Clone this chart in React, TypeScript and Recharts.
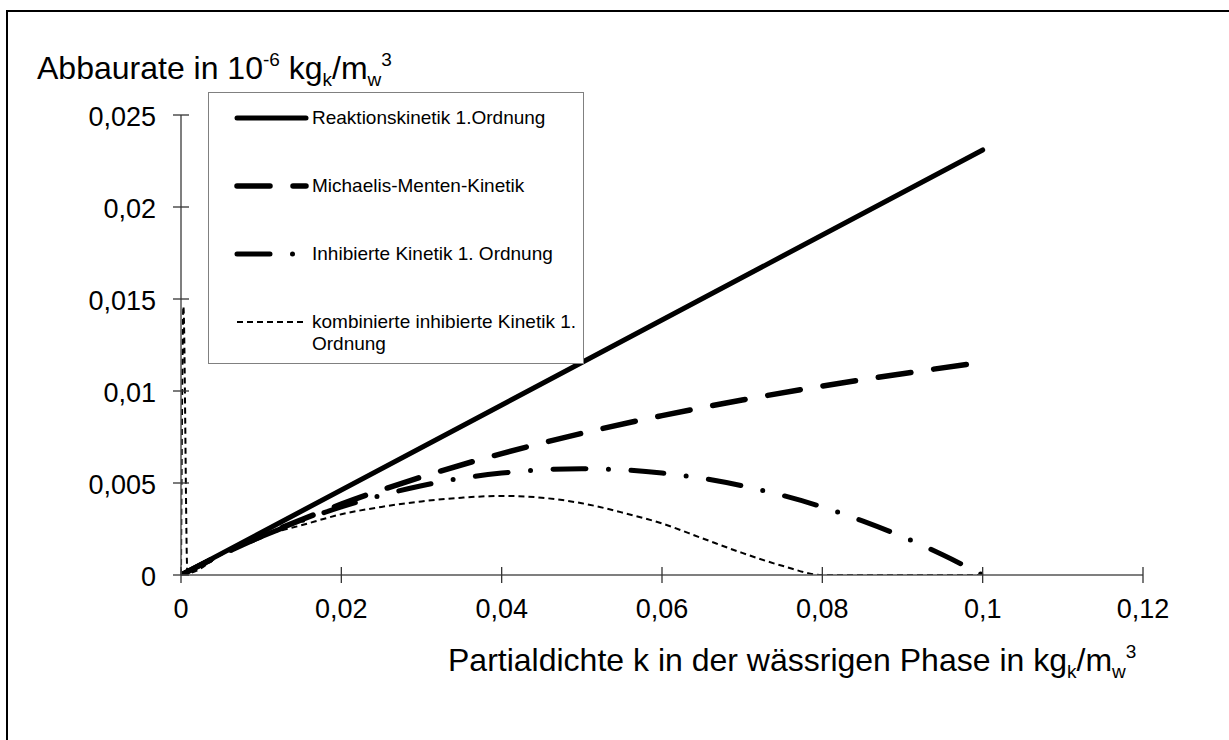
import React from 'react';
import { LineChart, Line, XAxis, YAxis, Legend } from 'recharts';

// Achsen
const xTicks = [0, 0.02, 0.04, 0.06, 0.08, 0.1, 0.12];
const yTicks = [0, 0.005, 0.01, 0.015, 0.02, 0.025];

// Reaktionskinetik 1. Ordnung
const linX = [0, 0.1];
const linY = [0, 0.0231];

// Michaelis-Menten-Kinetik
const mmX = [0, 0.005, 0.01, 0.015, 0.02, 0.03, 0.04, 0.05, 0.06, 0.07, 0.08, 0.09, 0.1];
const mmY = [0, 0.0011, 0.0021, 0.003, 0.00385, 0.00533, 0.0066, 0.0077, 0.00866, 0.00951, 0.01027, 0.01094, 0.01157];

// Inhibierte Kinetik 1. Ordnung
const inhX = [0, 0.005, 0.01, 0.015, 0.02, 0.025, 0.03, 0.035, 0.04, 0.045, 0.05, 0.055, 0.06, 0.065, 0.07, 0.075, 0.08, 0.085, 0.09, 0.095, 0.1];
const inhY = [0, 0.0011, 0.00208, 0.00294, 0.0037, 0.00433, 0.00485, 0.00526, 0.00554, 0.00572, 0.00578, 0.00572, 0.00554, 0.00526, 0.00485, 0.00433, 0.0037, 0.00294, 0.00208, 0.0011, 0];

// kombinierte inhibierte Kinetik 1. Ordnung (mit Spitze bei k ~ 0)
const kombX = [0, 0.0003, 0.0008, 0.005, 0.01, 0.015, 0.02, 0.025, 0.03, 0.035, 0.04, 0.045, 0.05, 0.055, 0.06, 0.065, 0.07, 0.075, 0.08, 0.085, 0.09, 0.095, 0.1];
const kombY = [0, 0.0146, 0.0001, 0.0011, 0.0021, 0.0027, 0.0033, 0.0037, 0.004, 0.0042, 0.0043, 0.0042, 0.0039, 0.0034, 0.0028, 0.002, 0.0012, 0.0005, 0, 0, 0, 0, 0];

const seriesNames = [
  'Reaktionskinetik 1.Ordnung',
  'Michaelis-Menten-Kinetik',
  'Inhibierte Kinetik 1. Ordnung',
  'kombinierte inhibierte Kinetik 1. Ordnung',
];

const toPoints = (xs: number[], ys: number[]) => xs.map((x, i) => ({ x, y: ys[i] }));

const seriesData = [toPoints(linX, linY), toPoints(mmX, mmY), toPoints(inhX, inhY), toPoints(kombX, kombY)];

const lineStyles = [
  { strokeWidth: 5, strokeDasharray: undefined, strokeLinecap: 'round' as const },
  { strokeWidth: 5.5, strokeDasharray: '33 23', strokeLinecap: 'round' as const },
  { strokeWidth: 5, strokeDasharray: '33 22.5 0 22.5', strokeLinecap: 'round' as const },
  { strokeWidth: 2, strokeDasharray: '6 4', strokeLinecap: 'butt' as const },
];

const FONT = '"Liberation Sans", Arial, sans-serif';

const fmt = (v: number) => String(v).replace('.', ',');

const XTick = (props: any) => {
  const { x, y, payload } = props;
  return (
    <g>
      <line x1={x} x2={x} y1={y - 8} y2={y + 8} stroke="#333" strokeWidth={1.3} />
      <text x={x} y={y + 43} textAnchor="middle" fontSize={27} fill="#000" fontFamily={FONT}>
        {fmt(payload.value)}
      </text>
    </g>
  );
};

const YTick = (props: any) => {
  const { x, y, payload } = props;
  return (
    <g>
      <line x1={x - 8} x2={x + 8} y1={y} y2={y} stroke="#333" strokeWidth={1.3} />
      <text x={x - 25} y={y + 11} textAnchor="end" fontSize={27} fill="#000" fontFamily={FONT}>
        {fmt(payload.value)}
      </text>
    </g>
  );
};

const supStyle: React.CSSProperties = { fontSize: 19, position: 'relative', top: -13 };
const subStyle: React.CSSProperties = { fontSize: 19, position: 'relative', top: 7 };

const LegendBox = () => (
  <div
    style={{
      width: 376,
      height: 272,
      border: '1px solid #808080',
      boxSizing: 'border-box',
      background: '#fff',
      position: 'relative',
      fontFamily: FONT,
      fontSize: 19,
      color: '#000',
    }}
  >
    {seriesNames.map((name, i) => {
      const st = lineStyles[i];
      return (
        <div key={name} style={{ position: 'absolute', left: 24, top: 14 + i * 68, display: 'flex', alignItems: 'flex-start' }}>
          <svg width={76} height={22} style={{ flex: 'none' }}>
            <line
              x1={4}
              x2={73}
              y1={11}
              y2={11}
              stroke="#000"
              strokeWidth={st.strokeWidth}
              strokeDasharray={st.strokeDasharray}
              strokeLinecap={st.strokeLinecap}
            />
          </svg>
          <span style={{ marginLeft: 3, width: 268, lineHeight: '22px', display: 'block' }}>{name}</span>
        </div>
      );
    })}
  </div>
);

export default function App() {
  return (
    <div style={{ position: 'absolute', left: 0, top: 0, width: 1229, height: 740, overflow: 'hidden', background: '#fff', fontFamily: FONT }}>
      <div
        style={{
          position: 'absolute',
          left: 6,
          top: 10,
          width: 1300,
          height: 800,
          borderLeft: '2px solid #000',
          borderTop: '2px solid #000',
        }}
      />
      <div style={{ position: 'absolute', left: 37, top: 50, fontSize: 32, whiteSpace: 'nowrap', lineHeight: '37px' }}>
        Abbaurate in 10<span style={supStyle}>-6</span> kg<span style={subStyle}>k</span>/m<span style={subStyle}>w</span>
        <span style={supStyle}>3</span>
      </div>
      <div style={{ position: 'absolute', left: 448, top: 642, fontSize: 32, whiteSpace: 'nowrap', lineHeight: '37px' }}>
        Partialdichte k in der wässrigen Phase in kg<span style={subStyle}>k</span>/m<span style={subStyle}>w</span>
        <span style={supStyle}>3</span>
      </div>
      <div style={{ position: 'absolute', left: 0, top: 0 }}>
        <LineChart width={1229} height={740} margin={{ top: 115, right: 86, left: 101, bottom: 135 }}>
          <XAxis
            type="number"
            dataKey="x"
            domain={[0, 0.12]}
            ticks={xTicks}
            interval={0}
            height={30}
            tickSize={0}
            tickMargin={0}
            tickLine={false}
            axisLine={{ stroke: '#555', strokeWidth: 1.5 }}
            tick={XTick}
            allowDataOverflow
          />
          <YAxis
            type="number"
            domain={[0, 0.025]}
            ticks={yTicks}
            interval={0}
            width={80}
            tickSize={0}
            tickMargin={0}
            tickLine={false}
            axisLine={{ stroke: '#555', strokeWidth: 1.5 }}
            tick={YTick}
            allowDataOverflow
          />
          <Legend
            verticalAlign="middle"
            align="center"
            layout="horizontal"
            content={LegendBox}
            wrapperStyle={{ left: 208, top: 92, width: 376, height: 272 }}
          />
          {seriesData.map((d, i) => (
            <Line
              key={seriesNames[i]}
              data={d}
              dataKey="y"
              name={seriesNames[i]}
              type="monotone"
              stroke="#000"
              strokeWidth={lineStyles[i].strokeWidth}
              strokeDasharray={lineStyles[i].strokeDasharray}
              strokeLinecap={lineStyles[i].strokeLinecap}
              dot={false}
              activeDot={false}
              isAnimationActive={false}
            />
          ))}
        </LineChart>
      </div>
    </div>
  );
}
